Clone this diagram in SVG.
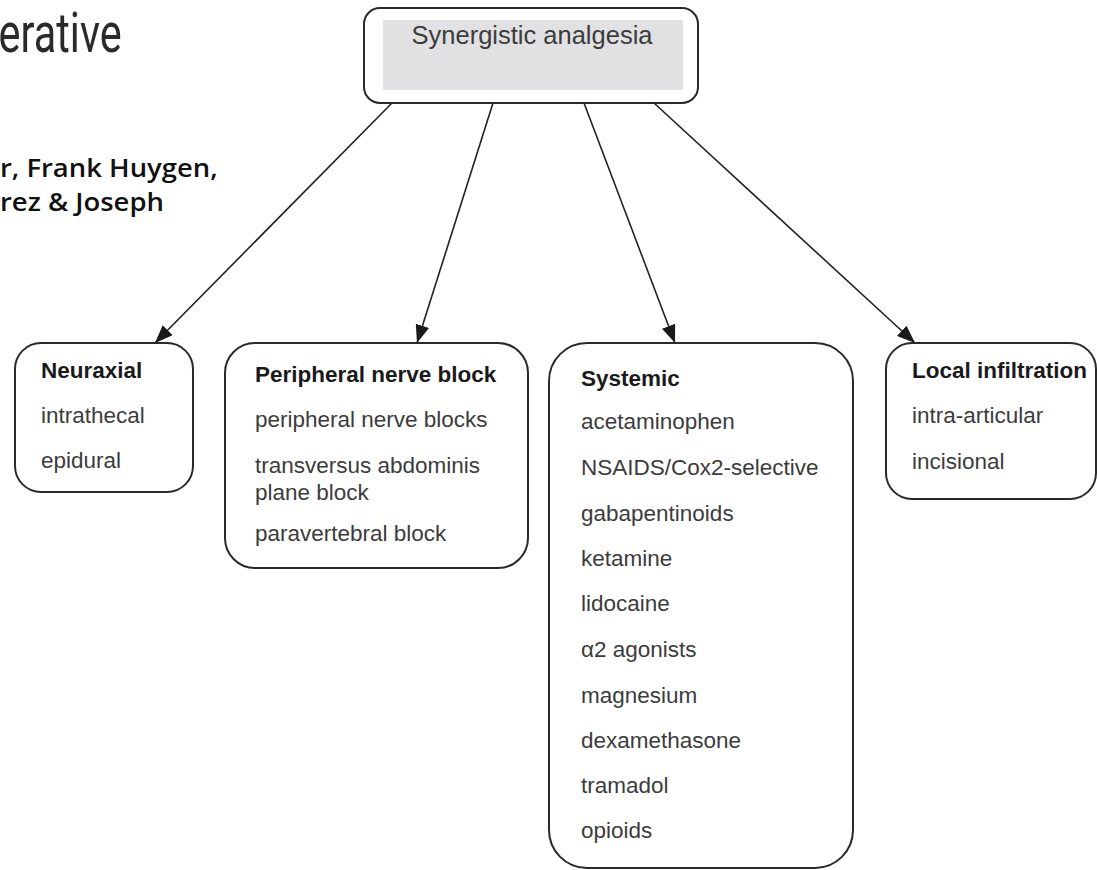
<svg xmlns="http://www.w3.org/2000/svg" width="1097" height="870" viewBox="0 0 1097 870">
<defs>
<style>
.box{fill:#fff;stroke:#2a2a2a;stroke-width:2}
.t{font-family:"Liberation Sans",Arial,sans-serif;font-size:22.5px;fill:#3c3c3c}
.h{font-family:"Liberation Sans",Arial,sans-serif;font-size:22.5px;font-weight:bold;fill:#1a1a1a}
.c{stroke:#222;stroke-width:1.6;fill:none}
.au{font-family:"Open Sans",sans-serif;font-size:24.5px;font-weight:600;fill:#111}
</style>
<marker id="a" viewBox="0 0 18 14" refX="18" refY="7" markerWidth="18" markerHeight="14" markerUnits="userSpaceOnUse" orient="auto">
<path d="M0,0 L18,7 L0,14 z" fill="#1a1a1a"/>
</marker>
</defs>
<rect width="1097" height="870" fill="#fff"/>
<g id="header">
<text x="-2" y="52" font-family="Roboto,'Liberation Sans',sans-serif" font-size="56" fill="#2a2a2a" transform="scale(0.74,1)">erative</text>
<text class="au" x="0" y="177" transform="scale(1.12,1)">r, Frank Huygen,</text>
<text class="au" x="0" y="211" transform="scale(1.12,1)">rez &amp; Joseph</text>
</g>
<g id="root">
<rect class="box" x="364" y="8" width="334" height="95" rx="16"/>
<rect x="383" y="20" width="300" height="70" fill="#e1e1e3"/>
<text x="532" y="44" text-anchor="middle" font-family="'Liberation Sans',Arial,sans-serif" font-size="25.5" fill="#3c3c3c">Synergistic analgesia</text>
</g>
<g id="connectors">
<line class="c" x1="392" y1="103" x2="155" y2="343" marker-end="url(#a)"/>
<line class="c" x1="493" y1="103" x2="417" y2="343" marker-end="url(#a)"/>
<line class="c" x1="584" y1="103" x2="675" y2="343" marker-end="url(#a)"/>
<line class="c" x1="654" y1="103" x2="915" y2="343" marker-end="url(#a)"/>
</g>
<g id="neuraxial">
<rect class="box" x="15" y="343" width="178" height="149" rx="26"/>
<text class="h" x="41" y="378">Neuraxial</text>
<text class="t" x="41" y="423">intrathecal</text>
<text class="t" x="41" y="468">epidural</text>
</g>
<g id="peripheral">
<rect class="box" x="225" y="343" width="303" height="225" rx="30"/>
<text class="h" x="255" y="382">Peripheral nerve block</text>
<text class="t" x="255" y="427">peripheral nerve blocks</text>
<text class="t" x="255" y="473">transversus abdominis</text>
<text class="t" x="255" y="500">plane block</text>
<text class="t" x="255" y="541">paravertebral block</text>
</g>
<g id="systemic">
<rect class="box" x="549" y="343" width="304" height="525" rx="38"/>
<text class="h" x="581" y="386">Systemic</text>
<text class="t" x="581" y="429">acetaminophen</text>
<text class="t" x="581" y="475">NSAIDS/Cox2-selective</text>
<text class="t" x="581" y="521">gabapentinoids</text>
<text class="t" x="581" y="566">ketamine</text>
<text class="t" x="581" y="611">lidocaine</text>
<text class="t" x="581" y="657">α2 agonists</text>
<text class="t" x="581" y="703">magnesium</text>
<text class="t" x="581" y="748">dexamethasone</text>
<text class="t" x="581" y="793">tramadol</text>
<text class="t" x="581" y="838">opioids</text>
</g>
<g id="local">
<rect class="box" x="886" y="343" width="210" height="156" rx="26"/>
<text class="h" x="912" y="378">Local infiltration</text>
<text class="t" x="912" y="423">intra-articular</text>
<text class="t" x="912" y="469">incisional</text>
</g>
</svg>
